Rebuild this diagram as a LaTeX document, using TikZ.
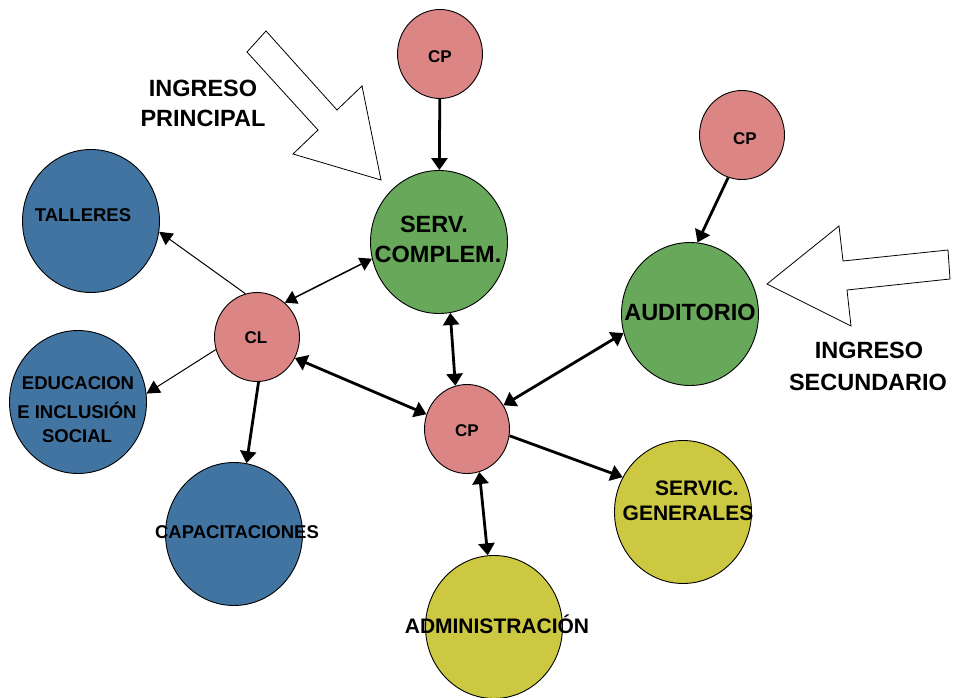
\documentclass[tikz,border=0pt]{standalone}
\usepackage{fontspec}
\setmainfont{Liberation Sans}
\usetikzlibrary{shapes.geometric,arrows.meta}
\definecolor{cpink}{RGB}{220,133,133}
\definecolor{cgreen}{RGB}{104,168,90}
\definecolor{cblue}{RGB}{66,116,162}
\definecolor{cyellow}{RGB}{205,200,66}
\begin{document}
\begin{tikzpicture}[x=1pt,y=-1pt,
  small/.style={ellipse,draw=black,line width=0.9pt,minimum width=85pt,minimum height=89pt,inner sep=0pt,fill=cpink},
  big/.style={ellipse,draw=black,line width=0.9pt,minimum width=137pt,minimum height=143pt,inner sep=0pt},
  txtS/.style={anchor=base,inner sep=0pt,font=\fontsize{17}{20}\selectfont\bfseries},
  txtM/.style={anchor=base,inner sep=0pt,font=\fontsize{18.5}{22}\selectfont\bfseries},
  txtL/.style={anchor=base,inner sep=0pt,font=\fontsize{21}{25}\selectfont\bfseries},
  txtXL/.style={anchor=base,inner sep=0pt,font=\fontsize{23.5}{28}\selectfont\bfseries},
  conn/.style={line width=2.8pt,-{Triangle[length=12pt,width=16pt]}},
  conntwo/.style={line width=2.8pt,{Triangle[length=12pt,width=16pt]}-{Triangle[length=12pt,width=16pt]}},
  thinconn/.style={line width=1pt,-{Triangle[length=13pt,width=14pt]}},
  midtwo/.style={line width=1.5pt,{Triangle[length=12pt,width=14pt]}-{Triangle[length=12pt,width=14pt]}},
  hollow/.style={draw=black,line width=0.8pt,fill=white,line join=miter}
]
\useasboundingbox[fill=white] (0,0) rectangle (954,698);

% hollow entrance arrows
\draw[hollow] (266,31) -- (337,110) -- (362,86) -- (381,180) -- (293,154) -- (318,130) -- (247,52) -- cycle;
\draw[hollow] (767,284) -- (839,226) -- (843,261) -- (948,250) -- (950,279) -- (847,290) -- (851,326) -- cycle;

% circles
\node[small] (cpA) at (440,54) {};
\node[big,fill=cgreen] (serv) at (439,242) {};
\node[small] (cpB) at (742,135) {};
\node[big,fill=cgreen] (aud) at (690,314) {};
\node[big,fill=cblue] (tal) at (91,221) {};
\node[small] (cl) at (257,337) {};
\node[big,fill=cblue] (edu) at (78,402) {};
\node[small] (cpC) at (467,429) {};
\node[big,fill=cblue] (cap) at (234,534) {};
\node[big,fill=cyellow] (sg) at (683,512) {};
\node[big,fill=cyellow] (adm) at (494,627) {};

% connectors
\draw[conn] (cpA) -- (serv);
\draw[midtwo] (cl.51) -- (serv.194);
\draw[thinconn] (cl.105) -- (tal.351);
\draw[thinconn] (cl.197) -- (edu.7);
\draw[conn] (cl.272) -- (cap.80);
\draw[conntwo] (cl.331) -- (cpC.160);
\draw[conntwo] (serv.279) -- (cpC.105);
\draw[conntwo] (aud.196) -- (cpC.33);
\draw[conn] (cpB.252) -- (aud.84);
\draw[conn] (cpC.351) -- (sg.150);
\draw[conntwo] (cpC.286) -- (adm.95);

% texts
\node[txtS] (tcpA) at (440,63) {CP};
\node[txtXL] (tserv1) at (434,233) {SERV.};
\node[txtXL] (tserv2) at (438,262) {COMPLEM.};
\node[txtS] (tcpB) at (745,145) {CP};
\node[txtXL] (taud) at (690,320) {AUDITORIO};
\node[txtM] (ttal) at (83,222) {TALLERES};
\node[txtS] (tcl) at (256,343) {CL};
\node[txtM] (tedu1) at (78,389) {EDUCACION};
\node[txtM] (tedu2) at (77,418) {E INCLUSIÓN};
\node[txtM] (tedu3) at (77,442) {SOCIAL};
\node[txtS] (tcpC) at (467,436) {CP};
\node[txtM] (tcap) at (237,538) {CAPACITACIONES};
\node[txtL] (tadm) at (497,633) {ADMINISTRACIÓN};
\node[txtL] (tsg1) at (697,495) {SERVIC.};
\node[txtL] (tsg2) at (688,520) {GENERALES};
\node[txtXL] (tip1) at (203,97) {INGRESO};
\node[txtXL] (tip2) at (203,127) {PRINCIPAL};
\node[txtXL] (tis1) at (869,358) {INGRESO};
\node[txtXL] (tis2) at (868,390) {SECUNDARIO};
\end{tikzpicture}
\end{document}
